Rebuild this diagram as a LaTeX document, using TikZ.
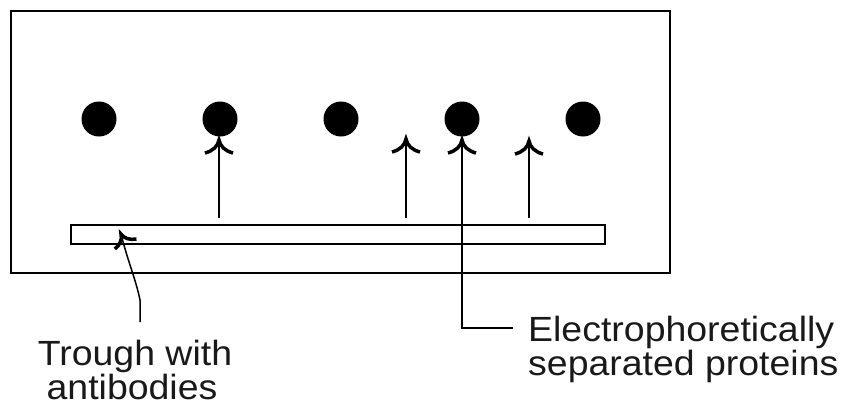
\documentclass[tikz,border=0pt]{standalone}
\usepackage{fontspec}
\setmainfont{Liberation Sans}
\newfontfamily\lblfont[FakeStretch=1.07]{Liberation Sans}
\begin{document}
\begin{tikzpicture}[x=1pt,y=-1pt,
  dot/.style={circle,fill=black,inner sep=0pt,minimum size=35pt},
  barb/.pic={\draw[line width=3.5pt] (-14,13) .. controls (-6,11) and (-1,6) .. (0,0) .. controls (1,6) and (6,11) .. (14,13);},
  lbl/.style={font=\lblfont\fontsize{35}{33}\selectfont, inner sep=0pt, text=black!90},
  conn/.style={line width=1.5pt},
  thickconn/.style={line width=2.6pt}]
\useasboundingbox (0,0) rectangle (841,407);
% gel and trough
\node[draw, line width=2pt, minimum width=659pt, minimum height=262pt, anchor=north west, inner sep=0pt] (gel) at (10,10) {};
\node[draw, line width=1.8pt, minimum width=534pt, minimum height=19pt, anchor=north west, inner sep=0pt] (trough) at (70,224) {};
% precipitin spots
\node[dot] (d1) at (99,119) {};
\node[dot] (d2) at (220,119) {};
\node[dot] (d3) at (341,119) {};
\node[dot] (d4) at (462,119) {};
\node[dot] (d5) at (583,119) {};
% arrow tips
\coordinate (t1) at (219,140);
\coordinate (t2) at (406,139);
\coordinate (t3) at (462,140);
\coordinate (t4) at (529,141);
\draw[conn] ([yshift=6pt]trough.north -| t1) -- (t1);
\draw[thickconn] ([yshift=6pt]trough.north -| t2) -- (t2);
\draw[conn] ([yshift=6pt]trough.north -| t4) -- (t4);
\pic at (t1) {barb};
\pic at (t2) {barb};
\pic at (t3) {barb};
\pic at (t4) {barb};
% labels
\node[lbl, anchor=base] (tr1) at (135,365) {Trough with};
\node[lbl, anchor=base] (tr2) at (132,399) {antibodies};
\node[lbl, anchor=base west] (e1) at (528,341) {Electrophoretically};
\node[lbl, anchor=base west] (e2) at (528,375) {separated proteins};
% leaders
\coordinate (ec) at (513,328);
\draw[conn] (t3) |- (ec);
\coordinate (t0) at (121,234);
\coordinate (l0) at (140,322);
\draw[conn] (l0) -- (140,300) .. controls (136,280) and (128,262) .. (t0);
\pic[rotate=25, scale=0.85] at (t0) {barb};
\end{tikzpicture}
\end{document}
